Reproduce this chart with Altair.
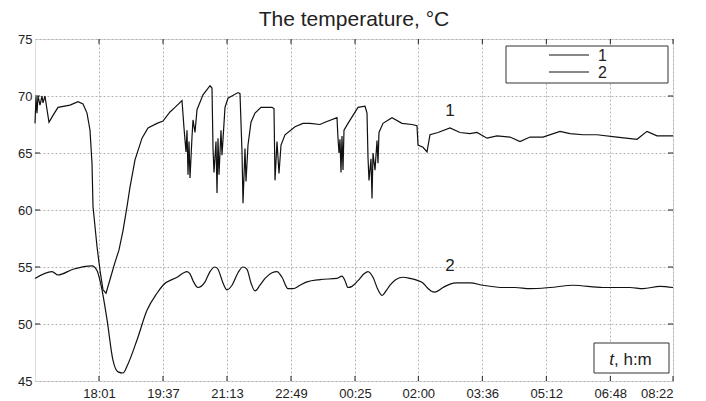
import altair as alt
import pandas as pd

# ---------------- data (minutes elapsed since 16:25, temperature in °C) ----------------
T1 = [0, 1.5, 3, 4.5, 7.5, 10.5, 12, 15, 18, 21, 27, 34.5, 52.5, 64.5, 72, 78, 82.5, 85.5, 87,
      93, 97.5, 102, 106.5, 112.5, 120, 126, 132, 138, 142.5, 150, 160.5, 169.5, 183, 192, 202.5,
      210, 220.5, 223.5, 226.5, 228, 229.5, 231, 232.5, 235.5, 237, 240, 243, 252, 262.5, 265.5,
      267, 268.5, 271.5, 273, 274.5, 276, 279, 280.5, 285, 289.5, 304.5, 307.5, 310.5, 312, 315,
      316.5, 319.5, 324, 330, 339, 355.5, 358.5, 360, 363, 366, 369, 375, 390, 402, 412.5, 427.5,
      435, 453, 454.5, 456, 457.5, 459, 460.5, 462, 463.5, 469.5, 477, 484.5, 495, 498, 499.5,
      501, 504, 505.5, 507, 510, 513, 514.5, 516, 522, 535.5, 550.5, 565.5, 573, 574.5, 582,
      588, 592.5, 604.5, 622.5, 637.5, 652.5, 663, 678, 693, 712.5, 727.5, 742.5, 762, 787.5,
      802.5, 822, 843, 873, 903, 918, 933, 957]
V1 = [67.6, 69.9, 68.5, 70.0, 69.2, 70.0, 69.4, 70.0, 68.8, 67.7, 68.3, 69.0, 69.2, 69.5, 69.3,
      68.5, 67.0, 64.1, 60.3, 56.8, 54.7, 53.0, 52.7, 53.9, 55.4, 56.5, 58.2, 60.3, 62.0, 64.4,
      66.3, 67.2, 67.6, 67.8, 68.6, 69.0, 69.6, 67.2, 65.1, 67.0, 63.1, 66.0, 62.8, 66.4, 67.9,
      66.8, 68.8, 70.1, 70.9, 70.7, 65.4, 63.3, 66.0, 61.5, 66.3, 63.1, 67.0, 64.8, 69.0, 69.8,
      70.3, 70.2, 65.1, 60.6, 65.4, 62.5, 65.7, 67.7, 68.5, 69.0, 69.0, 68.9, 62.6, 66.0, 63.2,
      65.7, 66.6, 67.3, 67.6, 67.6, 67.5, 67.7, 68.1, 66.3, 65.0, 66.2, 63.3, 66.5, 63.5, 67.0,
      67.6, 68.3, 69.0, 69.1, 68.5, 64.6, 62.6, 64.5, 61.0, 65.0, 63.5, 66.1, 64.1, 66.8, 67.6,
      68.1, 67.6, 67.5, 67.4, 65.7, 65.5, 65.1, 66.6, 66.8, 67.2, 66.8, 66.7, 66.8, 66.3, 66.5,
      66.4, 66.0, 66.4, 66.4, 66.9, 66.7, 66.6, 66.6, 66.4, 66.2, 66.9, 66.5, 66.5]

T2 = [0, 25.5, 34.5, 57, 85.5, 93, 97.5, 100.5, 108, 117, 124.5, 132, 139.5, 153, 168, 183, 192,
      213, 228, 232.5, 237, 244.5, 255, 262.5, 270, 274.5, 282, 288, 295.5, 304.5, 312, 318, 324,
      330, 337.5, 345, 355.5, 363, 370.5, 379.5, 387, 397.5, 408, 427.5, 453, 460.5, 465, 469.5,
      475.5, 484.5, 493.5, 499.5, 507, 514.5, 520.5, 526.5, 532.5, 541.5, 552, 562.5, 574.5, 582,
      588, 594, 600, 612, 622.5, 633, 652.5, 672, 702, 720, 742.5, 772.5, 807, 852, 892.5, 912,
      937.5, 957]
V2 = [54.0, 54.6, 54.3, 54.8, 55.1, 54.7, 53.8, 53.0, 50.4, 46.8, 45.8, 45.7, 46.5, 48.6, 51.2,
      52.7, 53.4, 54.1, 54.6, 54.4, 53.8, 53.2, 53.7, 54.6, 55.0, 54.8, 53.6, 53.0, 53.4, 54.5,
      55.0, 54.8, 53.6, 52.9, 53.4, 54.0, 54.5, 54.6, 54.1, 53.1, 53.1, 53.4, 53.7, 53.9, 54.0,
      54.2, 53.8, 53.2, 53.3, 53.8, 54.4, 54.6, 54.1, 53.0, 52.5, 52.9, 53.4, 53.9, 54.1, 54.0,
      53.8, 53.6, 53.2, 52.9, 52.8, 53.2, 53.5, 53.6, 53.6, 53.4, 53.2, 53.2, 53.1, 53.2, 53.4,
      53.2, 53.2, 53.1, 53.3, 53.2]

SERIES = ["1", "2"]
CURVE_LABEL_T = [622.5, 622.5]
CURVE_LABEL_V = [68.7, 55.1]

X_TICKS = [96, 192, 288, 384, 480, 575, 671, 767, 863, 957]
X_TICK_LABELS = ["18:01", "19:37", "21:13", "22:49", "00:25", "02:00", "03:36", "05:12", "06:48", "08:22"]
Y_TICKS = [45, 50, 55, 60, 65, 70, 75]

TITLE = "The temperature, °C"
UNIT_ITALIC = "t"
UNIT_REST = ", h:m"

# ---------------- layout ----------------
W, H = 638, 342
FONT = "Liberation Sans"
INK = "#111111"

df1 = pd.DataFrame({"m": T1, "v": V1})
df2 = pd.DataFrame({"m": T2, "v": V2})
dlab = pd.DataFrame({"m": CURVE_LABEL_T, "v": CURVE_LABEL_V, "s": SERIES})
dxt = pd.DataFrame({"m": X_TICKS})
dyt = pd.DataFrame({"v": Y_TICKS[1:-1]})
one = pd.DataFrame({"k": [0]})

label_expr = "".join(f"datum.value == {v} ? '{l}' : " for v, l in zip(X_TICKS, X_TICK_LABELS)) + "''"

xs = alt.Scale(domain=[0, 957], nice=False, zero=False)
ys = alt.Scale(domain=[45, 75], nice=False, zero=False)

grid_style = dict(grid=True, gridColor="#b4b4b4", gridDash=[2, 2], gridWidth=1)
x_axis = alt.Axis(values=X_TICKS, labelExpr=label_expr, title=None, ticks=False, domain=False,
                  labelFont=FONT, labelFontSize=13, labelColor="#222", labelPadding=6, **grid_style)
y_axis = alt.Axis(values=Y_TICKS, title=None, ticks=False, domain=False,
                  labelFont=FONT, labelFontSize=13, labelColor="#222", labelPadding=3, **grid_style)

X = alt.X("m:Q", scale=xs, axis=x_axis)
Y = alt.Y("v:Q", scale=ys, axis=y_axis)

line1 = alt.Chart(df1).mark_line(color=INK, strokeWidth=1.2).encode(x=X, y=Y)
line2 = alt.Chart(df2).mark_line(color=INK, strokeWidth=1.2, interpolate="monotone").encode(x=X, y=Y)

tick_style = dict(color="#222", strokeWidth=1)
xt_bottom = alt.Chart(dxt).mark_rule(**tick_style).encode(x=X, y=alt.value(H), y2=alt.value(H - 5))
xt_top = alt.Chart(dxt).mark_rule(**tick_style).encode(x=X, y=alt.value(0), y2=alt.value(5))
yt_left = alt.Chart(dyt).mark_rule(**tick_style).encode(y=Y, x=alt.value(0), x2=alt.value(5))
yt_right = alt.Chart(dyt).mark_rule(**tick_style).encode(y=Y, x=alt.value(W), x2=alt.value(W - 5))

curve_labels = alt.Chart(dlab).mark_text(font=FONT, fontSize=17, color="#222", align="center",
                                         baseline="middle").encode(x=X, y=Y, text="s:N")

# legend box (top right)
leg_box = alt.Chart(one).mark_rect(fill="white", stroke="#333", strokeWidth=1).encode(
    x=alt.value(471), x2=alt.value(633), y=alt.value(7), y2=alt.value(44))
leg_layers = [leg_box]
for i, s in enumerate(SERIES):
    yy = 16 + i * 17
    leg_layers.append(alt.Chart(one).mark_rule(color=INK, strokeWidth=1).encode(
        x=alt.value(514), x2=alt.value(554), y=alt.value(yy)))
    leg_layers.append(alt.Chart(one).mark_text(text=s, font=FONT, fontSize=16, color="#222",
                                               align="left", baseline="middle").encode(
        x=alt.value(563), y=alt.value(yy + 1)))

# unit box (bottom right)
unit_box = alt.Chart(one).mark_rect(fill="white", stroke="#333", strokeWidth=1).encode(
    x=alt.value(559), x2=alt.value(634), y=alt.value(304), y2=alt.value(334))
unit_t = alt.Chart(one).mark_text(text=UNIT_ITALIC, font=FONT, fontSize=17, fontStyle="italic",
                                  color="#222", align="right", baseline="alphabetic").encode(
    x=alt.value(579), y=alt.value(326))
unit_rest = alt.Chart(one).mark_text(text=UNIT_REST, font=FONT, fontSize=17, color="#222",
                                     align="left", baseline="alphabetic").encode(
    x=alt.value(579), y=alt.value(326))

chart = alt.layer(
    line1, line2, xt_bottom, xt_top, yt_left, yt_right, curve_labels,
    *leg_layers, unit_box, unit_t, unit_rest
).properties(
    width=W, height=H,
    title=alt.TitleParams(TITLE, font=FONT, fontSize=21, fontWeight="normal", color="#222",
                          anchor="middle", offset=3),
    autosize=alt.AutoSizeParams(type="none"),
    padding={"left": 27, "top": 31, "right": 20, "bottom": 20},
).configure_view(
    stroke="#222", strokeWidth=1
).configure(background="white")

chart.save("out.html", embed_options={"renderer": "svg", "actions": False})
